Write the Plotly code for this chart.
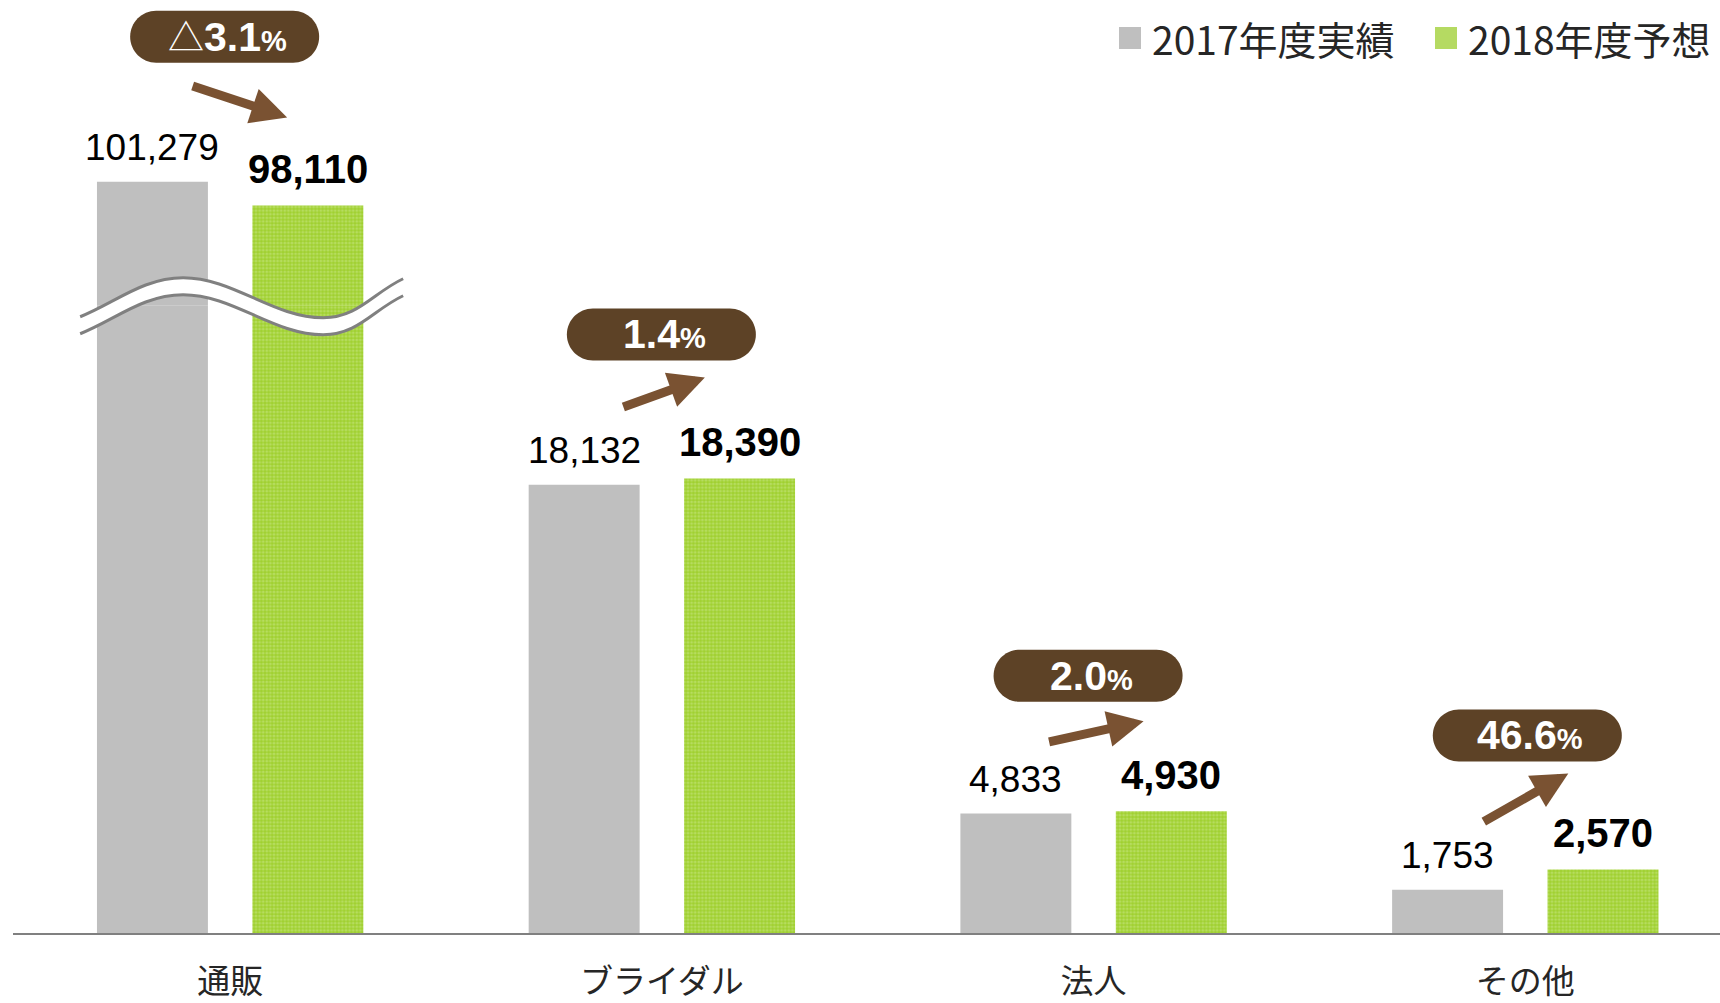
import plotly.graph_objects as go
import numpy as np

# data
categories = ["通販", "ブライダル", "法人", "その他"]
actual_2017 = [101279, 18132, 4833, 1753]
forecast_2018 = [98110, 18390, 4930, 2570]
growth_pct = [-3.1, 1.4, 2.0, 46.6]
series_names = ["2017年度実績", "2018年度予想"]

# styling / layout
W, H = 1720, 1003
M_L, M_B = 13, 57
PLOT_H = H - M_B
SPLIT = 636 / PLOT_H            # where the broken axis switches scale
X_RANGE = [-0.503, 3.451]
LOWER_RANGE = [0, 25380]
UPPER_RANGE = [84765, 125460]
BAR_W, BAR_OFF = 0.257, 0.18

GRAY = "#bfbfbf"
GREEN_BG, GREEN_FG = "#a0d030", "#cbe88e"
PILL = "#5d4226"
ARROW = "#7a5232"
NUM_FONT = "Liberation Sans, Arial, sans-serif"
JP_FONT = "Noto Sans CJK JP, sans-serif"

# hand placed decorations (pixels relative to category / bar top)
pill_dx = [-5.5, -0.5, -5.5, 2]
pill_dy = [145, 144, 135.5, 134]
arrow_tip = [(57, 88), (43, 101), (50, 90), (43, 96)]
arrow_tail = [(-96, -32), (-83, 30), (-96, 21), (-86, 49)]

idx = np.arange(len(categories))


def yref_of(v):
    return "y2" if v > LOWER_RANGE[1] else "y"


def pill_path(cx, cy, w=189, h=52):
    r = h / 2
    k = 0.5523 * r
    x0, x1 = cx - w / 2 + r, cx + w / 2 - r
    t, b = cy + r, cy - r
    return (f"M{x0},{t} L{x1},{t} "
            f"C{x1 + k},{t} {x1 + r},{cy + k} {x1 + r},{cy} "
            f"C{x1 + r},{cy - k} {x1 + k},{b} {x1},{b} "
            f"L{x0},{b} "
            f"C{x0 - k},{b} {x0 - r},{cy - k} {x0 - r},{cy} "
            f"C{x0 - r},{cy + k} {x0 - k},{t} {x0},{t} Z")


def curve(pts):
    # pts: start, peak, trough, end  (pixels, y up)
    (sx, sy), (px, py), (tx, ty), (ex, ey) = pts
    return (f"M{sx},{sy} C{sx + 35},{sy + 14} {px - 40},{py} {px},{py} "
            f"C{px + 50},{py} {tx - 50},{ty} {tx},{ty} "
            f"C{tx + 35},{ty} {ex - 30},{ey - 14} {ex},{ey}")


fig = go.Figure()

for yax in ["y", "y2"]:
    fig.add_trace(go.Bar(
        x=idx - BAR_OFF, y=actual_2017, width=BAR_W, yaxis=yax,
        marker=dict(color=GRAY, line_width=0), name=series_names[0],
        showlegend=False, hoverinfo="skip"))
    fig.add_trace(go.Bar(
        x=idx + BAR_OFF, y=forecast_2018, width=BAR_W, yaxis=yax,
        marker=dict(color=GREEN_BG, line_width=0,
                    pattern=dict(shape=".", size=3.6, solidity=0.5,
                                 fgcolor=GREEN_FG, bgcolor=GREEN_BG)),
        name=series_names[1], showlegend=False, hoverinfo="skip"))

annotations = []
shapes = []

for i in idx:
    a, f = actual_2017[i], forecast_2018[i]
    annotations.append(dict(
        x=i - BAR_OFF, y=a, xref="x", yref=yref_of(a), text=f"{a:,}",
        showarrow=False, yanchor="bottom", yshift=12,
        font=dict(family=NUM_FONT, size=37, color="#000000")))
    annotations.append(dict(
        x=i + BAR_OFF, y=f, xref="x", yref=yref_of(f), text=f"<b>{f:,}</b>",
        showarrow=False, yanchor="bottom", yshift=12,
        font=dict(family=NUM_FONT, size=40, color="#000000")))

    # growth pill
    top = max(a, f)
    shapes.append(dict(
        type="path", xref="x", yref=yref_of(top), xsizemode="pixel",
        ysizemode="pixel", xanchor=i, yanchor=top,
        path=pill_path(pill_dx[i], pill_dy[i]),
        fillcolor=PILL, line_width=0, layer="above"))
    g = growth_pct[i]
    sign = "<span style='font-size:36px;font-weight:normal'>△</span>" if g < 0 else ""
    annotations.append(dict(
        x=i, y=top, xref="x", yref=yref_of(top), xshift=pill_dx[i] + 3,
        yshift=pill_dy[i], showarrow=False, yanchor="middle",
        text=f"{sign}<b>{abs(g):.1f}<span style='font-size:29px'>%</span></b>",
        font=dict(family=NUM_FONT + ", " + JP_FONT, size=41, color="white")))

    # arrow from 2017 to 2018
    annotations.append(dict(
        x=i, y=f, xref="x", yref=yref_of(f), text="",
        xshift=arrow_tip[i][0], yshift=arrow_tip[i][1],
        showarrow=True, axref="pixel", ayref="pixel",
        ax=arrow_tail[i][0], ay=arrow_tail[i][1],
        arrowhead=2, arrowsize=0.8, arrowwidth=9, arrowcolor=ARROW,
        standoff=0, startstandoff=0))

# axis break decoration across the first category
x0_paper = (0 - X_RANGE[0]) / (X_RANGE[1] - X_RANGE[0])
upper_pts = [(-150, -11), (-47, 28), (93, -12), (173, 27)]
lower_pts = [(x, y - 17) for x, y in upper_pts]
up_path = curve(upper_pts)
lo_path = curve(lower_pts)
# white band between the two wavy lines
(sx, sy), (px, py), (tx, ty), (ex, ey) = lower_pts
band = (up_path + f" L{ex},{ey} "
        f"C{ex - 30},{ey - 14} {tx + 35},{ty} {tx},{ty} "
        f"C{tx - 50},{ty} {px + 50},{py} {px},{py} "
        f"C{px - 40},{py} {sx + 35},{sy + 14} {sx},{sy} Z")
common = dict(type="path", xref="paper", yref="paper", xsizemode="pixel",
              ysizemode="pixel", xanchor=x0_paper, yanchor=SPLIT, layer="above")
shapes.append(dict(common, path=band, fillcolor="white", line_width=0))
shapes.append(dict(common, path=up_path, line=dict(color="#808080", width=3)))
shapes.append(dict(common, path=lo_path, line=dict(color="#808080", width=3)))

# legend (drawn manually to get large squares)
legend_items = [(-601, GRAY), (-285, "#b5da62")]
for (xs, col), name in zip(legend_items, series_names):
    shapes.append(dict(type="rect", xref="paper", yref="paper",
                       xsizemode="pixel", ysizemode="pixel", xanchor=1, yanchor=1,
                       x0=xs, x1=xs + 22, y0=-27, y1=-49,
                       fillcolor=col, line_width=0))
    annotations.append(dict(
        x=1, y=1, xref="paper", yref="paper", xshift=xs + 31, yshift=-38,
        xanchor="left", yanchor="middle", showarrow=False, text=name,
        font=dict(family=JP_FONT, size=39, color="#262626")))

fig.update_layout(
    width=W, height=H,
    margin=dict(l=M_L, r=0, t=0, b=M_B),
    paper_bgcolor="white", plot_bgcolor="white",
    barmode="overlay",
    showlegend=False,
    xaxis=dict(range=X_RANGE, tickvals=idx, ticktext=categories,
               showgrid=False, zeroline=False, showline=True,
               linecolor="#808080", linewidth=2, ticks="",
               ticklabelstandoff=18, anchor="y",
               tickfont=dict(family=JP_FONT, size=33, color="#262626")),
    yaxis=dict(domain=[0, SPLIT], range=LOWER_RANGE, visible=False,
               showgrid=False, zeroline=False),
    yaxis2=dict(domain=[SPLIT, 1], range=UPPER_RANGE, visible=False,
                showgrid=False, zeroline=False, anchor="x"),
    annotations=annotations,
    shapes=shapes,
)

fig.write_html("out.html", config={"displayModeBar": False},
               post_script="document.body.style.margin='0';")
